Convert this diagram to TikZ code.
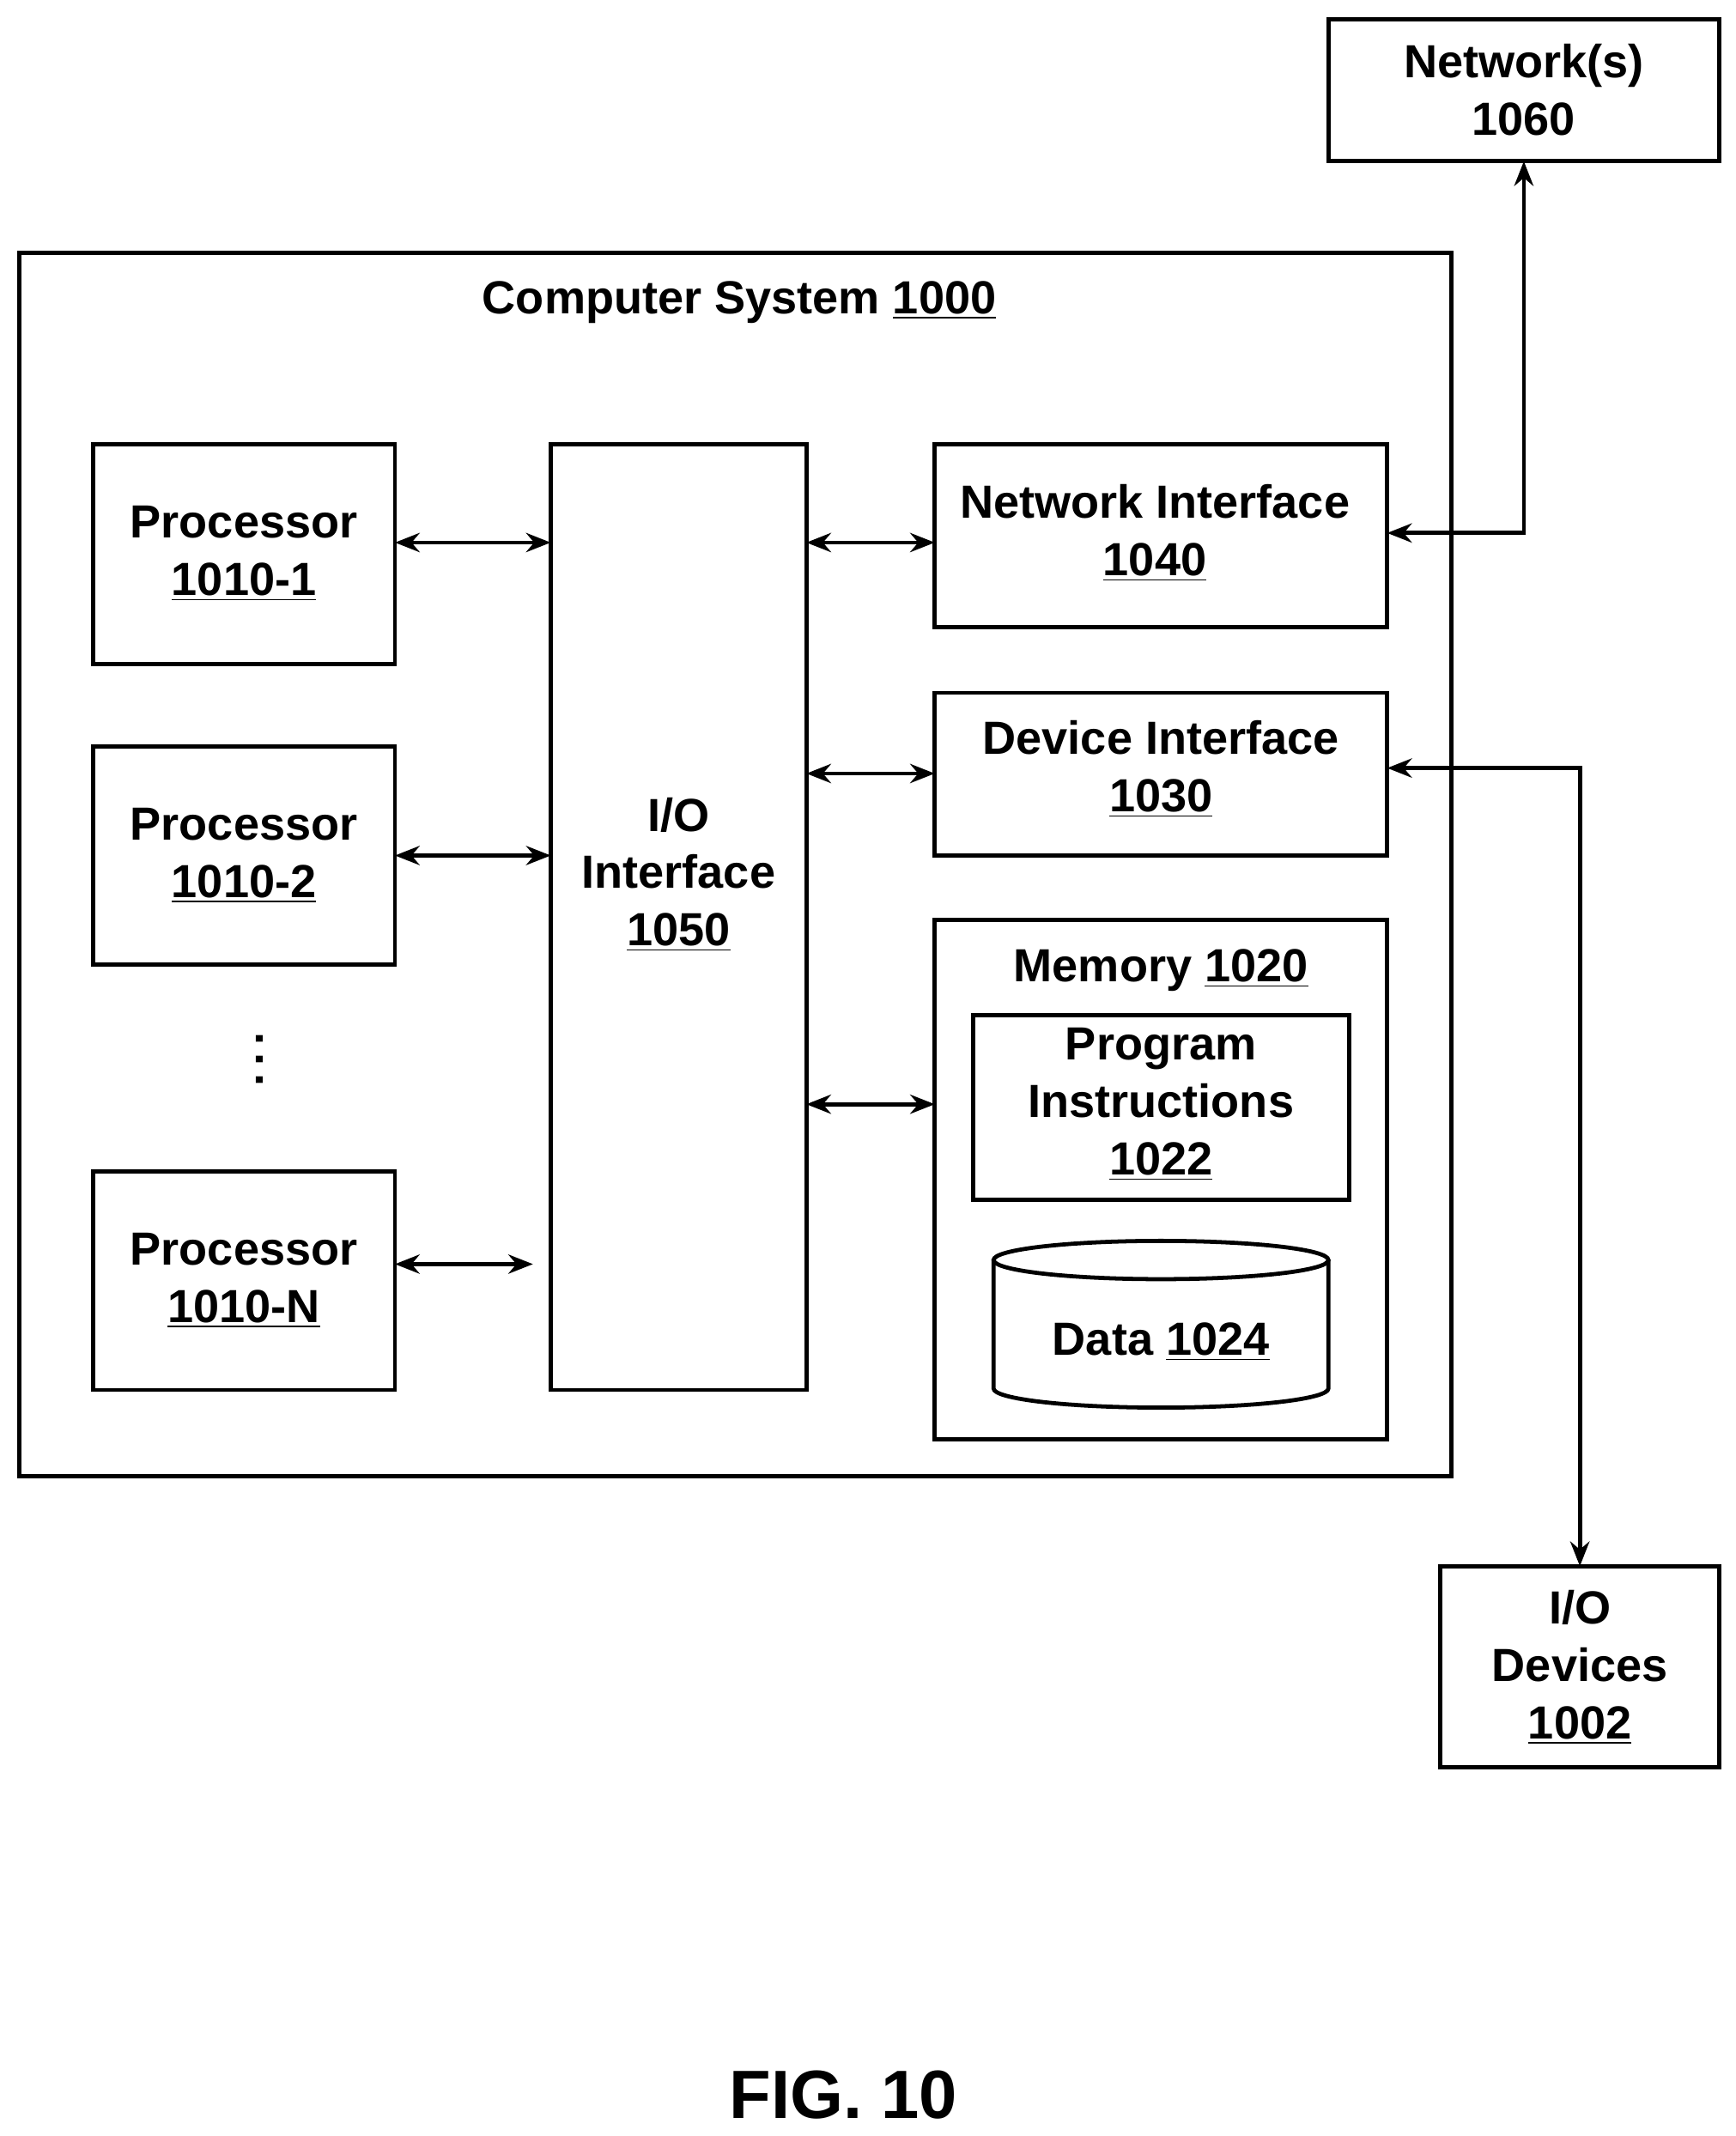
\documentclass[tikz,border=0pt]{standalone}
\usepackage{fontspec}
\setmainfont{Liberation Sans}
\usetikzlibrary{arrows.meta}
\begin{document}
\begin{tikzpicture}[x=0.5pt,y=-0.5pt,
  box/.style={draw,line width=1.5pt},
  lbl/.style={font=\fontsize{17}{21}\selectfont\bfseries,align=center},
  arr/.style={line width=1.5pt,{Stealth[length=9pt,width=7pt]}-{Stealth[length=9pt,width=7pt]}}]
\useasboundingbox (0,0) rectangle (1270,1563);
% boxes
\draw[box] (972,14) rectangle (1258,118);
\node[lbl] (net) at (1115,66) {Network(s)\\1060};
\coordinate (netB) at (1115,118);
\draw[box] (14,185) rectangle (1062,1080);
\node[lbl] (cs) at (541,221) {Computer System \underline{1000}};
\draw[box] (68,325) rectangle (289,486);
\node[lbl] (p1) at (178.5,405) {Processor\\\underline{1010-1}};
\draw[box] (68,546) rectangle (289,706);
\node[lbl] (p2) at (178.5,626) {Processor\\\underline{1010-2}};
\draw[box] (68,857) rectangle (289,1017);
\node[lbl] (pn) at (178.5,937) {Processor\\\underline{1010-N}};
\node[lbl] (dots) at (190,778) {\rotatebox{90}{\,.\,.\,.}};
\draw[box] (403,325) rectangle (590,1017);
\node[lbl] (io) at (496.5,640) {I/O\\Interface\\\underline{1050}};
\draw[box] (684,325) rectangle (1015,459);
\node[lbl] (ni) at (845,390) {Network Interface\\\underline{1040}};
\draw[box] (684,507) rectangle (1015,626);
\node[lbl] (di) at (849.5,563) {Device Interface\\\underline{1030}};
\draw[box] (684,673) rectangle (1015,1053);
\node[lbl] (mem) at (849.5,710) {Memory \underline{1020}};
\draw[box] (712,743) rectangle (987,878);
\node[lbl] (pi) at (849.5,808) {Program\\Instructions\\\underline{1022}};
% cylinder
\draw[box] (727,922) -- (727,1016) arc[start angle=180,end angle=0,x radius=122.5,y radius=14] -- (972,922);
\draw[box] (849.5,922) ellipse [x radius=122.5,y radius=14];
\node[lbl] (data) at (849.5,982) {Data \underline{1024}};
\draw[box] (1054,1146) rectangle (1258,1293);
\node[lbl] (iod) at (1156,1220) {I/O\\Devices\\\underline{1002}};
\coordinate (iodT) at (1156,1146);
% arrows
\draw[arr] (289,397) -- (403,397);
\draw[arr] (289,626) -- (403,626);
\draw[arr] (289,925) -- (390,925);
\draw[arr] (590,397) -- (684,397);
\draw[arr] (590,566) -- (684,566);
\draw[arr] (590,808) -- (684,808);
\draw[arr] (1015,390) -| (netB);
\draw[arr] (1015,562) -| (iodT);
\node[font=\fontsize{25}{29}\selectfont\bfseries] (fig) at (617,1533) {FIG. 10};
\end{tikzpicture}
\end{document}
